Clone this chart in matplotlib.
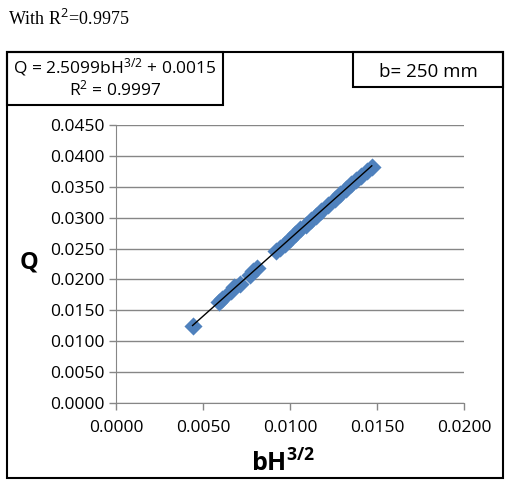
import numpy as np
import matplotlib
matplotlib.use("Agg")
import matplotlib.pyplot as plt
from matplotlib.patches import Rectangle

plt.rcParams['font.family'] = ['Open Sans', 'DejaVu Sans']
plt.rcParams['mathtext.fontset'] = 'custom'
plt.rcParams['mathtext.rm'] = 'Open Sans'
plt.rcParams['mathtext.it'] = 'Open Sans'
plt.rcParams['mathtext.bf'] = 'Open Sans:bold'

# data
bH = [0.0044, 0.0059, 0.0061, 0.0066, 0.0068, 0.0071, 0.0077, 0.0079, 0.0081,
      0.0092, 0.0094, 0.0097, 0.0100, 0.0103, 0.0106, 0.0109, 0.0112, 0.0115,
      0.0118, 0.0122, 0.0126, 0.0129, 0.0132, 0.0135, 0.0138, 0.0141, 0.0144, 0.0147]
Q = [0.0124, 0.0163, 0.0168, 0.0181, 0.0187, 0.0193, 0.0208, 0.0213, 0.0219,
     0.0246, 0.0251, 0.0258, 0.0266, 0.0273, 0.0281, 0.0288, 0.0296, 0.0303,
     0.0311, 0.0321, 0.0331, 0.0339, 0.0346, 0.0354, 0.0361, 0.0368, 0.0376, 0.0382]
slope = 2.5099
intercept = 0.0015
xticks = [0.0, 0.005, 0.010, 0.015, 0.020]
yticks = [0.0, 0.005, 0.010, 0.015, 0.020, 0.025, 0.030, 0.035, 0.040, 0.045]

fig = plt.figure(figsize=(5.07, 4.84), dpi=100)
ax = fig.add_axes([116/507, 1-403/484, 348/507, 278/484])

grid_col = '#868686'
ax.scatter(bH, Q, marker='D', s=85, color='#4F81BD', zorder=3, linewidths=0)
xl = np.array([min(bH), max(bH)])
ax.plot(xl, slope*xl + intercept, color='black', lw=1, zorder=4)

ax.set_xlim(0, 0.02)
ax.set_ylim(0, 0.045)
ax.set_xticks(xticks)
ax.set_yticks(yticks)
ax.set_xticklabels([f'{v:.4f}' for v in xticks])
ax.set_yticklabels([f'{v:.4f}' for v in yticks])
ax.tick_params(labelsize=12.5, colors=grid_col, labelcolor='black', length=5, width=1)
ax.tick_params(axis='x', pad=7)
ax.yaxis.grid(True, color=grid_col, lw=1)
ax.set_axisbelow(True)
for s in ['top', 'right']:
    ax.spines[s].set_visible(False)
for s in ['left', 'bottom']:
    ax.spines[s].set_color(grid_col)

# labels
fig.text(29/507, 1-263/484, 'Q', fontsize=17, fontweight='bold', ha='center', va='center')
fig.text(283/507, 1-464/484, r'$\mathbf{bH}^{\mathbf{3/2}}$', fontsize=18, ha='center', va='center')
fig.text(8/507, 1-19/484, r'With R$^2$=0.9975', family='Liberation Serif', fontsize=13,
         ha='left', va='center')

# chart frame and boxes
fig.add_artist(Rectangle((7/507, 1-478/484), 496/507, 426/484, transform=fig.transFigure,
                         fill=False, ec='black', lw=1.5))
fig.add_artist(Rectangle((7/507, 1-105/484), 216/507, 53/484, transform=fig.transFigure,
                         fill=False, ec='black', lw=1.5))
fig.add_artist(Rectangle((353/507, 1-87/484), 150/507, 35/484, transform=fig.transFigure,
                         fill=False, ec='black', lw=1.5))
fig.text(115/507, 1-78/484, 'Q = 2.5099bH$^{3/2}$ + 0.0015\nR$^2$ = 0.9997', fontsize=12.5,
         ha='center', va='center', linespacing=1.1)
fig.text(428/507, 1-72/484, 'b= 250 mm', fontsize=13.5, ha='center', va='center')

fig.savefig('out.png', dpi=100)
